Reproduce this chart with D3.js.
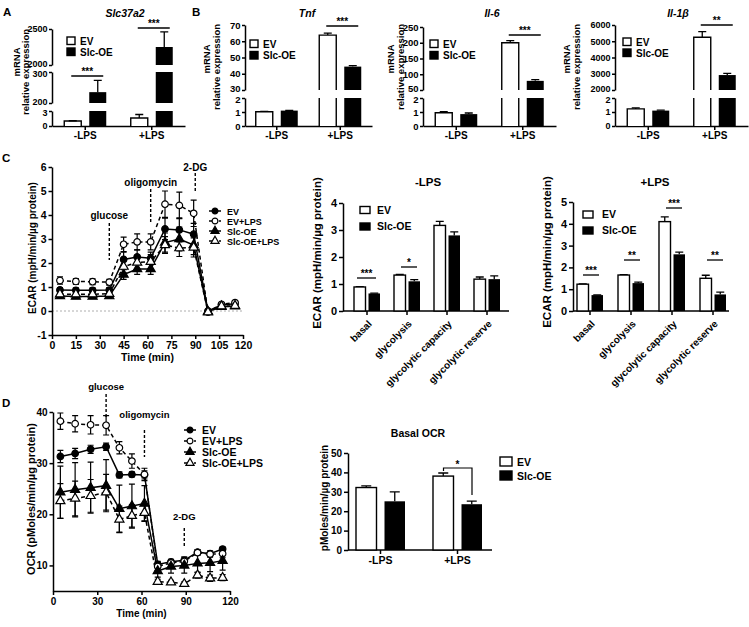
<!DOCTYPE html>
<html><head><meta charset="utf-8">
<script src="https://cdn.jsdelivr.net/npm/d3@7"></script>
<style>body{margin:0;background:#fff;}</style>
</head><body>
<script>
// ================= DATA =================
const groups = ["-LPS", "+LPS"];
const seriesNames = ["EV", "Slc-OE"];

// Panel A - Slc37a2 (broken axis)
const slc37a2EV = [1.0, 1.6];
const slc37a2EVErr = [0.05, 0.7];
const slc37a2OE = [235, 2250];
const slc37a2OEErr = [38, 210];
const slc37a2Breaks = [[0, 3], [200, 300], [2000, 2500]];
const slc37a2Ticks = [[0, 3], [200, 300], [2000, 2500]];

// Panel B - Tnf
const tnfEV = [1.02, 63.8];
const tnfEVErr = [0.02, 1.2];
const tnfOE = [1.1, 44.4];
const tnfOEErr = [0.02, 0.6];
const tnfBreaks = [[0, 2], [30, 70]];
const tnfTicks = [[0, 1, 2], [30, 40, 50, 60, 70]];

// Panel B - Il-6
const il6EV = [0.95, 200];
const il6EVErr = [0.07, 7];
const il6OE = [0.85, 79];
const il6OEErr = [0.08, 4];
const il6Breaks = [[0, 2], [50, 250]];
const il6Ticks = [[0, 1, 2], [50, 100, 150, 200, 250]];

// Panel B - Il-1b
const il1bEV = [1.22, 5250];
const il1bEVErr = [0.08, 340];
const il1bOE = [1.1, 2920];
const il1bOEErr = [0.03, 100];
const il1bBreaks = [[0, 2], [2000, 6000]];
const il1bTicks = [[0, 1, 2], [2000, 3000, 4000, 5000, 6000]];

// Panel C / D time courses
const timePoints = [5, 15, 25.5, 36, 45, 53.5, 62, 71, 80, 89, 98, 106.5, 115];
const lineSeries = ["EV", "EV+LPS", "Slc-OE", "Slc-OE+LPS"];

const ecarEV       = [0.88, 0.86, 0.86, 0.87, 2.15, 2.25, 2.2, 3.42, 3.38, 3.2, 0.0, 0.25, 0.3];
const ecarEVErr    = [0.1, 0.1, 0.1, 0.1, 0.3, 0.3, 0.25, 0.45, 0.5, 0.45, 0.05, 0.05, 0.05];
const ecarEVLPS    = [1.27, 1.23, 1.22, 1.2, 2.78, 2.88, 2.88, 4.45, 4.4, 4.07, -0.05, 0.28, 0.35];
const ecarEVLPSErr = [0.15, 0.12, 0.12, 0.12, 0.3, 0.33, 0.33, 0.55, 0.55, 0.55, 0.06, 0.05, 0.05];
const ecarOE       = [0.62, 0.6, 0.6, 0.62, 1.52, 1.75, 1.75, 2.85, 3.0, 2.75, -0.02, 0.18, 0.2];
const ecarOEErr    = [0.08, 0.08, 0.08, 0.08, 0.2, 0.22, 0.22, 0.4, 0.5, 0.4, 0.05, 0.05, 0.05];
const ecarOELPS    = [0.7, 0.7, 0.7, 0.72, 1.85, 2.02, 2.05, 2.75, 2.62, 2.65, -0.05, 0.2, 0.22];
const ecarOELPSErr = [0.08, 0.08, 0.08, 0.08, 0.25, 0.3, 0.3, 0.35, 0.35, 0.4, 0.05, 0.05, 0.05];
const ecarInjections = [{label: "glucose", t: 36}, {label: "oligomycin", t: 62}, {label: "2-DG", t: 90}];

const ocrEV       = [31.3, 31.9, 32.7, 33.2, 27.7, 27.8, 27.7, 10.2, 10.7, 11.0, 12.6, 12.3, 13.2];
const ocrEVErr    = [1.2, 1.0, 0.8, 0.7, 0.6, 0.5, 0.8, 0.6, 0.5, 0.7, 0.5, 0.5, 0.4];
const ocrEVLPS    = [38.2, 37.7, 37.5, 37.4, 33.0, 30.4, 27.8, 9.8, 10.5, 10.8, 12.5, 12.2, 12.3];
const ocrEVLPSErr = [1.6, 1.6, 1.8, 1.9, 1.2, 1.4, 1.2, 0.8, 0.5, 0.6, 0.5, 0.6, 0.8];
const ocrOE       = [24.3, 24.8, 25.2, 25.6, 21.1, 21.6, 22.1, 8.9, 9.8, 10.0, 10.4, 10.5, 10.9];
const ocrOEErr    = [5.1, 5.3, 5.0, 5.1, 4.6, 4.3, 3.5, 1.2, 1.3, 1.5, 1.8, 1.7, 1.8];
const ocrOELPS    = [22.6, 23.1, 23.6, 24.3, 19.0, 19.7, 20.3, 6.8, 6.7, 6.4, 8.1, 7.5, 7.6];
const ocrOELPSErr = [3.4, 3.4, 3.2, 3.5, 2.6, 2.2, 1.6, 0.5, 0.4, 0.4, 0.6, 0.6, 0.6];
const ocrInjections = [{label: "glucose", t: 36}, {label: "oligomycin", t: 62}, {label: "2-DG", t: 89}];

// Panel C bar charts
const ecarCats = ["basal", "glycolysis", "glycolytic capacity", "glycolytic reserve"];
const ecarNoLpsEV    = [0.89, 1.33, 3.17, 1.18];
const ecarNoLpsEVErr = [0.01, 0.03, 0.15, 0.08];
const ecarNoLpsOE    = [0.65, 1.1, 2.8, 1.18];
const ecarNoLpsOEErr = [0.01, 0.06, 0.13, 0.12];
const ecarLpsEV      = [1.23, 1.65, 4.1, 1.5];
const ecarLpsEVErr   = [0.01, 0.02, 0.22, 0.14];
const ecarLpsOE      = [0.73, 1.28, 2.6, 0.76];
const ecarLpsOEErr   = [0.01, 0.04, 0.1, 0.11];

// Panel D bar chart
const ocrBasalEV    = [32.2, 38.1];
const ocrBasalEVErr = [0.9, 1.6];
const ocrBasalOE    = [25.1, 23.6];
const ocrBasalOEErr = [4.9, 1.6];

// ================= DRAWING =================
const svg = d3.select("body").append("svg").attr("width", 749).attr("height", 627)
  .style("display", "block").style("background", "#fff");
const FONT = "'Liberation Sans', Arial, Helvetica, sans-serif";
const fmt = d => d3.format("d")(d).replace("\u2212", "-");

function styleAxis(g, fs) {
  g.attr("font-family", FONT).attr("font-size", fs).attr("font-weight", "bold");
  g.selectAll("path, line").attr("stroke", "#000").attr("stroke-width", 1.5);
  g.selectAll("text").attr("fill", "#000");
}
function label(x, y, s, o = {}) {
  const t = svg.append("text").attr("x", x).attr("y", y)
    .attr("font-family", FONT).attr("font-size", o.fs || 10).attr("font-weight", "bold")
    .attr("text-anchor", o.anchor || "middle").attr("fill", "#000");
  if (o.italic) t.attr("font-style", "italic");
  if (o.rot) t.attr("transform", `rotate(${o.rot},${x},${y})`);
  if (Array.isArray(s)) s.forEach(p => t.append("tspan").text(p.t).attr("font-style", p.i ? "italic" : null));
  else t.text(s);
  return t;
}
function line(x1, y1, x2, y2, w = 1.3, dash = null) {
  return svg.append("line").attr("x1", x1).attr("y1", y1).attr("x2", x2).attr("y2", y2)
    .attr("stroke", "#000").attr("stroke-width", w).attr("stroke-dasharray", dash);
}
function barLegend(x, y, w, h, gap, tx, fs) {
  seriesNames.forEach((n, i) => {
    svg.append("rect").attr("x", x).attr("y", y + i * gap).attr("width", w).attr("height", h)
      .attr("fill", i === 0 ? "#fff" : "#000").attr("stroke", "#000").attr("stroke-width", 1.4);
    label(tx, y + i * gap + h, n, {anchor: "start", fs});
  });
}
function errBar(px, y0, y1, half = 4) {
  svg.append("path").attr("d", `M${px},${y0}V${y1}M${px - half},${y1}H${px + half}`)
    .attr("stroke", "#000").attr("stroke-width", 1.3).attr("fill", "none");
}

// ---------- broken axis bar panels (A, B) ----------
function brokenPanel(c) {
  const xb = d3.scaleBand().domain(groups).range([c.x0, c.x1]);
  const scales = c.breaks.map((d, i) => d3.scaleLinear().domain(d).range(c.rng[i]));
  const yBase = c.rng[0][0];
  const n = scales.length;
  scales.forEach((sc, i) => {
    const dom = c.breaks[i];
    const g = svg.append("g").attr("transform", `translate(${c.x0},0)`)
      .call(d3.axisLeft(sc).tickValues(c.ticks[i]).tickFormat(fmt).tickSize(3).tickSizeOuter(0).tickPadding(1.5));
    styleAxis(g, c.fs);
    g.selectAll(".tick text").attr("transform", d =>
      (d === dom[1] && i < n - 1) ? "translate(0,1.5)" : ((d === dom[0] && i > 0) ? "translate(0,-1.5)" : null));
  });
  const gx = svg.append("g").attr("transform", `translate(0,${yBase})`)
    .call(d3.axisBottom(xb).tickSize(4).tickSizeOuter(0).tickPadding(2));
  styleAxis(gx, 10);
  const ser = [
    {vals: c.ev, errs: c.evErr, fill: "#fff", off: [-21, -4]},
    {vals: c.oe, errs: c.oeErr, fill: "#000", off: [4, 21]}
  ];
  ser.forEach(s => groups.forEach((grp, gi) => {
    const v = s.vals[gi], cx = xb(grp) + xb.bandwidth() / 2;
    const xl = cx + s.off[0], xr = cx + s.off[1];
    scales.forEach((sc, si) => {
      const [d0, d1] = c.breaks[si];
      if (v <= d0) return;
      const top = Math.min(v, d1);
      const yb = sc(d0), yt = sc(top);
      svg.append("rect").attr("x", xl).attr("y", yt).attr("width", xr - xl).attr("height", yb - yt).attr("fill", s.fill);
      if (s.fill === "#fff") {
        let p = `M${xl},${yb}V${yt}`;
        p += v <= d1 ? `H${xr}` : `M${xr},${yt}`;
        p += `V${yb}`;
        svg.append("path").attr("d", p).attr("fill", "none").attr("stroke", "#000").attr("stroke-width", 1.4);
      }
      if (v <= d1) errBar((xl + xr) / 2, yt, sc(v + s.errs[gi]), 4);
    });
  }));
  c.sig.forEach(s => {
    const cx = xb(groups[s.g]) + xb.bandwidth() / 2;
    line(cx - 14, s.y, cx + 18, s.y, 1.3);
    label(cx + 2, s.y - 1, s.s, {fs: 10});
  });
  label(c.titleX, 17, c.title, {fs: 10.5, italic: true});
  barLegend(c.legX, c.legY, 8, 7.5, c.legGap, c.legX + 13, 10);
  label(c.ylabX[0] + 3.5, c.ylabY[0], "mRNA", {rot: -90, fs: 9.5});
  label(c.ylabX[1] + 3.5, c.ylabY[1], "relative expression", {rot: -90, fs: 9.5});
}

brokenPanel({x0: 52, x1: 185, breaks: slc37a2Breaks, ticks: slc37a2Ticks,
  rng: [[126, 111], [103, 72], [65, 29]], fs: 9,
  ev: slc37a2EV, evErr: slc37a2EVErr, oe: slc37a2OE, oeErr: slc37a2OEErr,
  sig: [{g: 0, y: 76, s: "***"}, {g: 1, y: 28, s: "***"}],
  title: "Slc37a2", titleX: 125, legX: 67, legY: 37, legGap: 11,
  ylabX: [16.5, 25.5], ylabY: [62, 72]});
brokenPanel({x0: 245, x1: 372, breaks: tnfBreaks, ticks: tnfTicks,
  rng: [[126, 98], [90, 25]], fs: 9.5,
  ev: tnfEV, evErr: tnfEVErr, oe: tnfOE, oeErr: tnfOEErr,
  sig: [{g: 1, y: 26, s: "***"}],
  title: "Tnf", titleX: 307, legX: 250, legY: 40, legGap: 11.5,
  ylabX: [206, 216], ylabY: [59, 67]});
brokenPanel({x0: 423, x1: 556, breaks: il6Breaks, ticks: il6Ticks,
  rng: [[126, 98], [90, 27]], fs: 9.5,
  ev: il6EV, evErr: il6EVErr, oe: il6OE, oeErr: il6OEErr,
  sig: [{g: 1, y: 35, s: "***"}],
  title: "Il-6", titleX: 492, legX: 430, legY: 40, legGap: 11.5,
  ylabX: [390.5, 400], ylabY: [59, 67]});
brokenPanel({x0: 615, x1: 748, breaks: il1bBreaks, ticks: il1bTicks,
  rng: [[126, 98], [90, 25]], fs: 9,
  ev: il1bEV, evErr: il1bEVErr, oe: il1bOE, oeErr: il1bOEErr,
  sig: [{g: 1, y: 25, s: "**"}],
  title: [{t: "Il-1", i: true}, {t: "β", i: true}], titleX: 678, legX: 623, legY: 38, legGap: 11,
  ylabX: [566.5, 576], ylabY: [59, 67]});

label(3, 16, "A", {anchor: "start", fs: 11.5});
label(192, 16, "B", {anchor: "start", fs: 11.5});
label(2, 162, "C", {anchor: "start", fs: 11.5});
label(2, 407, "D", {anchor: "start", fs: 11.5});

// ---------- line charts ----------
function lineChart(c) {
  const x = d3.scaleLinear().domain(c.xDom).range(c.xRng);
  const y = d3.scaleLinear().domain(c.yDom).range(c.yRng);
  if (c.zeroLine) line(c.xRng[0], y(0), c.xRng[1], y(0), 0.8, "2,2").attr("stroke", "#999");
  const gx = svg.append("g").attr("transform", `translate(0,${c.yRng[0]})`)
    .call(d3.axisBottom(x).tickValues(c.xTicks).tickFormat(fmt).tickSize(4).tickSizeOuter(0).tickPadding(3));
  styleAxis(gx, c.fs);
  const gy = svg.append("g").attr("transform", `translate(${c.xRng[0]},0)`)
    .call(d3.axisLeft(y).tickValues(c.yTicks).tickFormat(fmt).tickSize(3.5).tickSizeOuter(0).tickPadding(2));
  styleAxis(gy, c.fs);
  c.series.forEach(s => {
    s.vals.forEach((v, i) => {
      const px = x(timePoints[i]), e = s.errs[i];
      svg.append("path").attr("d", `M${px},${y(v - e)}V${y(v + e)}M${px - 3},${y(v + e)}H${px + 3}M${px - 3},${y(v - e)}H${px + 3}`)
        .attr("stroke", "#000").attr("stroke-width", 1.2).attr("fill", "none");
    });
  });
  c.series.forEach(s => {
    svg.append("path").datum(s.vals)
      .attr("d", d3.line().x((d, i) => x(timePoints[i])).y(d => y(d)))
      .attr("fill", "none").attr("stroke", "#000").attr("stroke-width", 1.5)
      .attr("stroke-dasharray", s.dashed ? "4,3" : null);
  });
  const sym = (s, k = 1) => d3.symbol().type(s.tri ? d3.symbolTriangle : d3.symbolCircle).size((s.tri ? 36 : 34) * k)();
  c.series.forEach(s => {
    s.vals.forEach((v, i) => {
      svg.append("path").attr("d", sym(s)).attr("transform", `translate(${x(timePoints[i])},${y(v)})`)
        .attr("fill", s.open ? "#fff" : "#000").attr("stroke", "#000").attr("stroke-width", 1.2);
    });
  });
  c.inj.forEach((d, i) => {
    const a = c.injLayout[i];
    line(x(d.t), a[1], x(d.t), a[2], 1.4, "3,2");
    label(x(d.t), a[0], d.label, {fs: c.fs - 0.5});
  });
  c.series.forEach((s, i) => {
    const ly = c.legY + i * c.legGap;
    line(c.legX - 6, ly, c.legX + 6, ly, 1.5, s.dashed ? "3,2" : null);
    svg.append("path").attr("d", sym(s, 0.8)).attr("transform", `translate(${c.legX},${ly})`)
      .attr("fill", s.open ? "#fff" : "#000").attr("stroke", "#000").attr("stroke-width", 1.2);
    label(c.legX + 12, ly + 3.5, lineSeries[i], {anchor: "start", fs: c.legFs});
  });
  label((c.xRng[0] + c.xRng[1]) / 2, c.yRng[0] + 26, "Time (min)", {fs: c.fs});
  label(c.ylab[0] + 3.5, c.ylab[1], c.ylabText, {rot: -90, fs: c.ylabFs});
}

lineChart({xDom: [0, 120], xRng: [52, 243], yDom: [-1, 6], yRng: [335, 167],
  xTicks: d3.range(0, 121, 15), yTicks: d3.range(-1, 7, 1), fs: 10.5, zeroLine: true,
  series: [
    {vals: ecarEV, errs: ecarEVErr},
    {vals: ecarEVLPS, errs: ecarEVLPSErr, open: true, dashed: true},
    {vals: ecarOE, errs: ecarOEErr, tri: true},
    {vals: ecarOELPS, errs: ecarOELPSErr, tri: true, open: true, dashed: true}],
  inj: ecarInjections, injLayout: [[219, 223, 260], [185.5, 189, 222], [170.5, 173, 192]],
  legX: 215, legY: 211, legGap: 10, legFs: 9,
  ylab: [32, 248], ylabText: "ECAR (mpH/min/µg protein)", ylabFs: 10});

lineChart({xDom: [0, 120], xRng: [53, 230], yDom: [5, 40], yRng: [591, 412],
  xTicks: d3.range(0, 121, 30), yTicks: [10, 20, 30, 40], fs: 10, zeroLine: false,
  series: [
    {vals: ocrEV, errs: ocrEVErr},
    {vals: ocrEVLPS, errs: ocrEVLPSErr, open: true, dashed: true},
    {vals: ocrOE, errs: ocrOEErr, tri: true},
    {vals: ocrOELPS, errs: ocrOELPSErr, tri: true, open: true, dashed: true}],
  inj: ocrInjections, injLayout: [[390, 394, 418], [418, 430, 457], [520, 528, 547]],
  legX: 190, legY: 430, legGap: 11, legFs: 10.5,
  ylab: [31, 499], ylabText: "OCR (pMoles/min/µg protein)", ylabFs: 11});

// ---------- grouped bar charts ----------
function barChart(c) {
  const xb = d3.scaleBand().domain(c.cats).range(c.bandRng);
  const y = d3.scaleLinear().domain(c.yDom).range(c.yRng);
  const gy = svg.append("g").attr("transform", `translate(${c.axX[0]},0)`)
    .call(d3.axisLeft(y).tickValues(c.yTicks).tickFormat(fmt).tickSize(4).tickSizeOuter(0).tickPadding(2));
  styleAxis(gy, c.fs);
  const gx = svg.append("g").attr("transform", `translate(0,${c.yRng[0]})`)
    .call(d3.axisBottom(xb).tickSize(4).tickSizeOuter(0).tickPadding(3));
  styleAxis(gx, c.xfs);
  gx.select(".domain").attr("d", `M${c.axX[0]},0H${c.axX[1]}`);
  if (c.rotate) {
    gx.selectAll(".tick text").attr("y", 0).attr("dy", "0.35em").attr("text-anchor", "end")
      .attr("transform", "translate(3,11) rotate(-45)");
  }
  const ser = [
    {vals: c.ev, errs: c.evErr, fill: "#fff", off: c.offEV},
    {vals: c.oe, errs: c.oeErr, fill: "#000", off: c.offOE}
  ];
  ser.forEach(s => c.cats.forEach((cat, i) => {
    const cx = xb(cat) + xb.bandwidth() / 2, v = s.vals[i];
    const xl = cx + s.off[0], xr = cx + s.off[1];
    const yt = y(v), yb = y(0);
    errBar((xl + xr) / 2, yt, y(v + s.errs[i]), c.cap);
    svg.append("rect").attr("x", xl).attr("y", yt).attr("width", xr - xl).attr("height", yb - yt)
      .attr("fill", s.fill).attr("stroke", s.fill === "#fff" ? "#000" : "none").attr("stroke-width", 1.4);
  }));
  c.sig.forEach(s => {
    const cx = xb(c.cats[s.i]) + xb.bandwidth() / 2;
    line(cx + s.x0, s.y, cx + s.x1, s.y, 1.3);
    label(cx + (s.x0 + s.x1) / 2, s.y - 1, s.s, {fs: 10});
  });
  if (c.title) label(c.title[0], c.title[1], c.title[2], {fs: c.titleFs});
  barLegend(c.leg[0], c.leg[1], c.leg[2], c.leg[3], c.leg[4], c.leg[5], c.legFs);
  label(c.ylab[0] + 4, c.ylab[1], c.ylab[2], {rot: -90, fs: c.ylabFs});
}

barChart({cats: ecarCats, bandRng: [347, 507], axX: [343, 509], yDom: [0, 4], yRng: [311, 203],
  yTicks: [0, 1, 2, 3, 4], fs: 11, xfs: 10, rotate: true,
  ev: ecarNoLpsEV, evErr: ecarNoLpsEVErr, oe: ecarNoLpsOE, oeErr: ecarNoLpsOEErr,
  offEV: [-13, -1.5], offOE: [1.5, 13], cap: 4,
  sig: [{i: 0, y: 278, x0: -10, x1: 9, s: "***"}, {i: 1, y: 267, x0: -6, x1: 10, s: "*"}],
  title: [428, 186, "-LPS"], titleFs: 11.5,
  leg: [360, 206.5, 10, 7, 16.5, 377], legFs: 10.5,
  ylab: [317, 253, "ECAR (mpH/min/µg protein)"], ylabFs: 11.5});

barChart({cats: ecarCats, bandRng: [569.5, 733.5], axX: [573, 729], yDom: [0, 5], yRng: [311, 202],
  yTicks: [0, 1, 2, 3, 4, 5], fs: 11, xfs: 10, rotate: true,
  ev: ecarLpsEV, evErr: ecarLpsEVErr, oe: ecarLpsOE, oeErr: ecarLpsOEErr,
  offEV: [-13, -1.5], offOE: [1.5, 13], cap: 4,
  sig: [{i: 0, y: 275, x0: -7, x1: 9, s: "***"}, {i: 1, y: 260, x0: -7, x1: 9, s: "**"},
        {i: 2, y: 208, x0: -6, x1: 10, s: "***"}, {i: 3, y: 260, x0: -6, x1: 10, s: "**"}],
  title: [655, 186, "+LPS"], titleFs: 11.5,
  leg: [583, 211, 10, 7, 16, 602], legFs: 10.5,
  ylab: [547, 252, "ECAR (mpH/min/µg protein)"], ylabFs: 11.5});

barChart({cats: groups, bandRng: [342, 496], axX: [348, 492], yDom: [0, 50], yRng: [550, 453],
  yTicks: [0, 10, 20, 30, 40, 50], fs: 10, xfs: 10.5, rotate: false,
  ev: ocrBasalEV, evErr: ocrBasalEVErr, oe: ocrBasalOE, oeErr: ocrBasalOEErr,
  offEV: [-24.5, -4], offOE: [4, 24.5], cap: 5,
  sig: [],
  title: [418, 437, "Basal OCR"], titleFs: 10.5,
  leg: [500, 457, 12, 9, 14, 517], legFs: 10.5,
  ylab: [324, 498, "pMoles/min/µg protein"], ylabFs: 10});

// bracket for Basal OCR significance
(function () {
  const xb = d3.scaleBand().domain(groups).range([342, 496]);
  const cx = xb("+LPS") + xb.bandwidth() / 2;
  svg.append("path").attr("d", `M${cx - 14},471V468H${cx + 14.5}V495`)
    .attr("fill", "none").attr("stroke", "#000").attr("stroke-width", 1.2);
  label(cx, 468, "*", {fs: 10});
})();
</script>
</body></html>
